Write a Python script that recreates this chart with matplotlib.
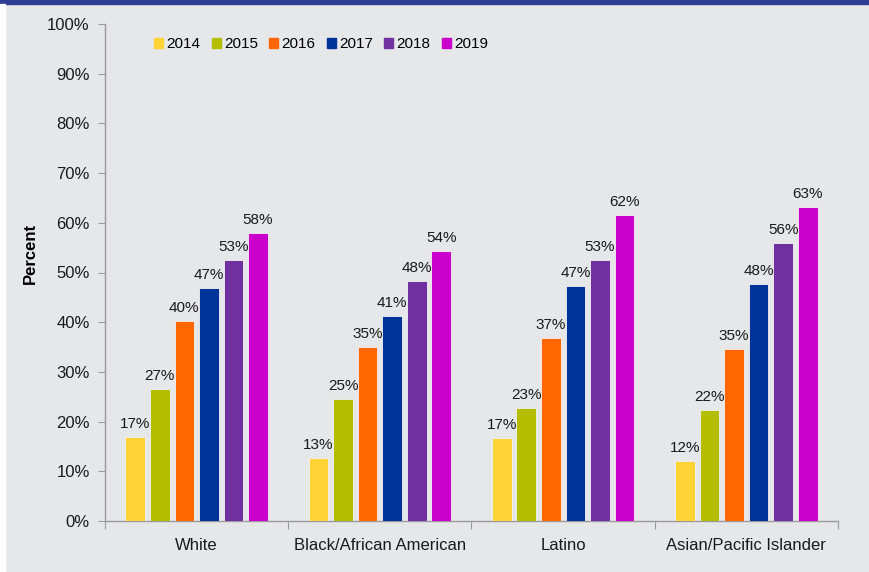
import matplotlib
matplotlib.use("Agg")
import matplotlib.pyplot as plt
from matplotlib.patches import Rectangle
import numpy as np

plt.rcParams['font.family'] = ['Liberation Sans', 'DejaVu Sans']

categories = ["White", "Black/African American", "Latino", "Asian/Pacific Islander"]
years = ["2014", "2015", "2016", "2017", "2018", "2019"]
colors = ["#FFD335", "#B5BD00", "#FF6600", "#003399", "#7030A0", "#CC00CC"]

v2014 = [16.9, 12.6, 16.7, 12.1]
v2015 = [26.6, 24.6, 22.8, 22.4]
v2016 = [40.2, 35.0, 36.8, 34.6]
v2017 = [46.9, 41.3, 47.3, 47.7]
v2018 = [52.6, 48.3, 52.6, 55.9]
v2019 = [57.9, 54.3, 61.6, 63.2]
series = [v2014, v2015, v2016, v2017, v2018, v2019]

yticks = [0, 10, 20, 30, 40, 50, 60, 70, 80, 90, 100]

bg = "#E6E7E9"
axis_col = "#9A9A9A"

fig = plt.figure(figsize=(8.7, 5.72), dpi=100)
fig.patch.set_facecolor(bg)
# thin navy band along the top and white strip down the left edge
fig.add_artist(Rectangle((0, 1 - 4 / 572), 1, 4 / 572, transform=fig.transFigure,
                         color="#2E3C93", zorder=5))
fig.add_artist(Rectangle((0, 0), 5 / 870, 1 - 4 / 572, transform=fig.transFigure,
                         color="white", zorder=5))

ax = fig.add_axes([105 / 870, 1 - 521 / 572, 733 / 870, 497 / 572])
ax.set_facecolor(bg)

centers = np.arange(len(categories)) + 0.5
step = 0.134
width = 0.107
handles = []
for i, (vals, col, yr) in enumerate(zip(series, colors, years)):
    x = centers + (i - 2.5) * step
    ax.bar(x, vals, width=width, color=col, edgecolor="#F2F2F2",
           linewidth=0.6, label=yr, zorder=3)
    for xi, v in zip(x, vals):
        ax.text(xi, v + 1.2, f"{v:.0f}%", ha="center", va="bottom",
                fontsize=11, color="#1A1A1A", zorder=4)
    handles.append(Rectangle((0, 0), 1, 1, color=col))

ax.set_xlim(0, len(categories))
ax.set_ylim(0, 100)
ax.set_yticks(yticks)
ax.set_yticklabels([f"{t}%" for t in yticks], fontsize=12, color="#1A1A1A")
ax.set_xticks(np.arange(len(categories) + 1))
ax.set_xticklabels([])
ax.set_xticks(centers, minor=True)
ax.set_xticklabels(categories, minor=True, fontsize=12, color="#1A1A1A")
ax.tick_params(axis="x", which="major", length=6, color=axis_col, direction="out")
ax.tick_params(axis="x", which="minor", length=0, pad=12)
ax.tick_params(axis="y", length=5, color=axis_col, direction="out", pad=6)

for s in ["top", "right"]:
    ax.spines[s].set_visible(False)
for s in ["left", "bottom"]:
    ax.spines[s].set_color(axis_col)
    ax.spines[s].set_linewidth(1.0)

ax.set_ylabel("Percent", fontsize=12, fontweight="bold", color="#000000")
ax.yaxis.set_label_coords(-0.092, 0.539)

leg = ax.legend(handles, years, ncol=6, loc="upper left",
                bbox_to_anchor=(0.067, 0.973), frameon=False, fontsize=11,
                handlelength=0.6, handleheight=0.6, handletextpad=0.2,
                columnspacing=0.74, borderaxespad=0, borderpad=0)

fig.savefig("out.png", dpi=100, facecolor=fig.get_facecolor())
